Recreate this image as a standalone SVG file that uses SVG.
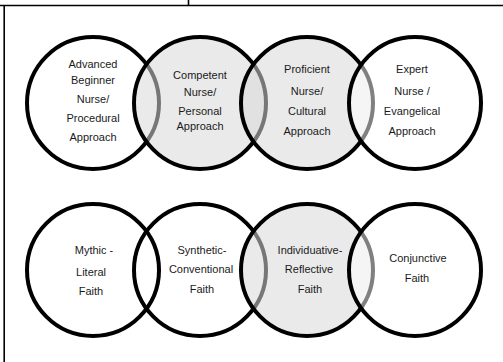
<svg xmlns="http://www.w3.org/2000/svg" width="503" height="362" viewBox="0 0 503 362">
<style>
.frame{stroke:#000;stroke-width:1.6;fill:none}
.c{stroke:#000;stroke-width:4}
.white{fill:#ffffff}
.gray{fill:#d9d9d9;fill-opacity:0.55}
.clear{fill:none}
.halfwhite{fill:#ffffff;fill-opacity:0.5}
text{font-family:"Liberation Sans",Arial,sans-serif;font-size:11px;fill:#1a1a1a;text-anchor:middle}
</style>
<rect width="503" height="362" fill="#fff"/>
<g id="frame">
<line class="frame" x1="0" y1="5.5" x2="503" y2="5.5"/>
<line class="frame" x1="188.5" y1="0" x2="188.5" y2="5.5"/>
<line class="frame" x1="4.2" y1="5.5" x2="4.2" y2="362"/>
</g>
<g id="connectors"></g>
<g id="advanced-beginner">
<circle class="c white" cx="93" cy="103" r="66"/>
<text x="93" y="68">Advanced</text>
<text x="93" y="84">Beginner</text>
<text x="93" y="103">Nurse/</text>
<text x="93" y="122">Procedural</text>
<text x="93" y="141">Approach</text>
</g>
<g id="competent">
<circle class="c gray" cx="200" cy="103" r="66"/>
<text x="200" y="79">Competent</text>
<text x="200" y="96">Nurse/</text>
<text x="200" y="115">Personal</text>
<text x="200" y="130">Approach</text>
</g>
<g id="proficient">
<circle class="c gray" cx="307" cy="103" r="66"/>
<text x="307" y="73">Proficient</text>
<text x="307" y="95">Nurse/</text>
<text x="307" y="115">Cultural</text>
<text x="307" y="135">Approach</text>
</g>
<g id="expert">
<circle class="c halfwhite" cx="415" cy="103" r="66"/>
<text x="412" y="73">Expert</text>
<text x="412" y="95">Nurse  /</text>
<text x="412" y="115">Evangelical</text>
<text x="412" y="135">Approach</text>
</g>
<g id="mythic-literal">
<circle class="c white" cx="93" cy="270" r="66"/>
<text x="94" y="254">Mythic  -</text>
<text x="91" y="276">Literal</text>
<text x="91" y="295">Faith</text>
</g>
<g id="synthetic-conventional">
<circle class="c clear" cx="200" cy="270" r="66"/>
<text x="202" y="254">Synthetic-</text>
<text x="201" y="273">Conventional</text>
<text x="202" y="293">Faith</text>
</g>
<g id="individuative-reflective">
<circle class="c gray" cx="307" cy="270" r="66"/>
<text x="310" y="254">Individuative-</text>
<text x="309" y="273">Reflective</text>
<text x="310" y="293">Faith</text>
</g>
<g id="conjunctive">
<circle class="c halfwhite" cx="415" cy="270" r="66"/>
<text x="418" y="262">Conjunctive</text>
<text x="417" y="282">Faith</text>
</g>
</svg>
